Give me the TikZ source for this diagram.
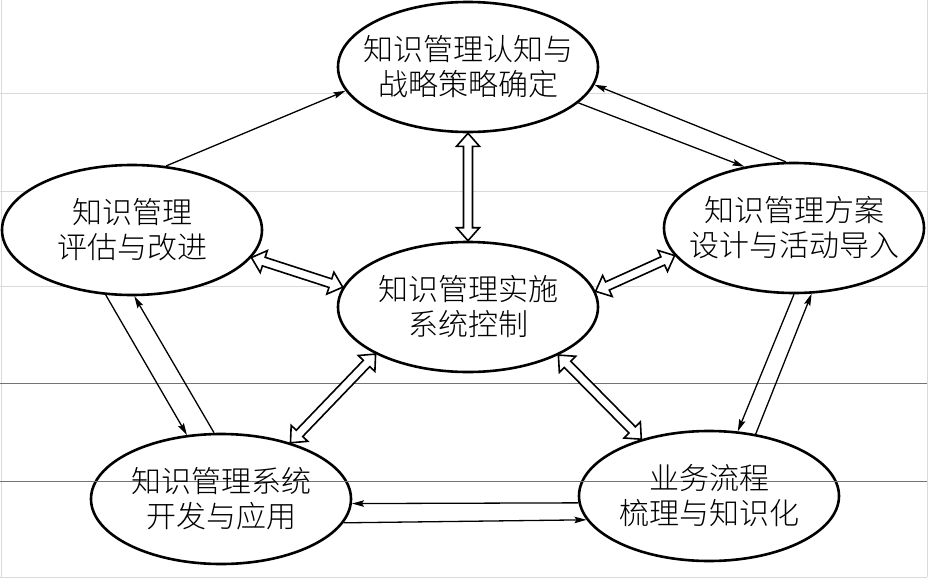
\documentclass[tikz,border=0pt]{standalone}
\usepackage{fontspec}
\newfontfamily\cjk{Noto Sans CJK SC Light}
\usetikzlibrary{shapes.geometric,arrows.meta,calc}
\newcommand\dblarr[2]{%
  \coordinate (da1) at ($(#1)!13pt!(#2)$);
  \coordinate (da2) at ($(#2)!13pt!(#1)$);
  \draw[hollow] (#1)
    -- ($(da1)!11.5pt!90:(#2)$) -- ($(da1)!4.5pt!90:(#2)$)
    -- ($(da2)!4.5pt!90:(#2)$) -- ($(da2)!11.5pt!90:(#2)$)
    -- (#2)
    -- ($(da2)!11.5pt!-90:(#2)$) -- ($(da2)!4.5pt!-90:(#2)$)
    -- ($(da1)!4.5pt!-90:(#2)$) -- ($(da1)!11.5pt!-90:(#2)$) -- cycle;}
\begin{document}
\begin{tikzpicture}[x=1pt,y=-1pt,
  ell/.style={ellipse, draw, line width=2.6pt, fill=white,
    minimum width=260pt, minimum height=130pt, inner sep=0pt},
  txt/.style={font=\cjk\fontsize{30}{35}\selectfont, align=center, inner sep=0pt},
  conn/.style={line width=1.3pt, -{Stealth[length=12pt,width=6.5pt,inset=2pt]}},
  hollow/.style={line width=1.6pt, fill=white, line join=miter},
  faint/.style={draw=black!15, line width=0.8pt},
  scanline/.style={draw=black!55, line width=0.9pt}]
\useasboundingbox (0,0) rectangle (932,586);
% background grid lines of the scan
\draw[faint] (1,0) -- (1,577);
\draw[faint] (927,0) -- (927,577);
\foreach \yy in {93,191,286,577} \draw[faint] (0,\yy) -- (927,\yy);
% ellipses
\node[ell] (T)  at (468,67)  {};
\node[ell] (L)  at (132,230) {};
\node[ell] (R)  at (794,228) {};
\node[ell] (C)  at (468,307) {};
\node[ell] (BL) at (221,499) {};
\node[ell] (BR) at (709,496) {};
\foreach \yy in {383,481} \draw[scanline] (0,\yy) -- (927,\yy);
% texts
\node[txt] (Tt)  at (T)  {知识管理认知与\\战略策略确定};
\node[txt] (Lt)  at (L)  {知识管理\\评估与改进};
\node[txt] (Rt)  at (R)  {知识管理方案\\设计与活动导入};
\node[txt] (Ct)  at (C)  {知识管理实施\\系统控制};
\node[txt] (BLt) at (BL) {知识管理系统\\开发与应用};
\node[txt] (BRt) at (BR) {业务流程\\梳理与知识化};
% single arrows (outer cycle)
\draw[conn] (L.62.4) -- (T.191);
\draw[conn] (R.97) -- (T.352.4);
\draw[conn] (T.342.8) -- (R.129);
\draw[conn] (R.270) -- (BR.66.3);
\draw[conn] (BR.53.3) -- (R.285.8);
\draw[conn] (BR.183.1) -- (BL.358.2);
\draw[conn] (BL.349.9) -- (BR.191.75);
\draw[conn] (L.248.4) -- (BL.118.6);
\draw[conn] (BL.96.7) -- (L.272);
% hollow double arrows (to the centre)
\dblarr{C.90}{T.270}
\dblarr{L.347}{C.171.1}
\dblarr{C.7.5}{R.193.3}
\dblarr{C.207.8}{BL.39.7}
\dblarr{C.332.7}{BR.140.5}
\end{tikzpicture}
\end{document}
